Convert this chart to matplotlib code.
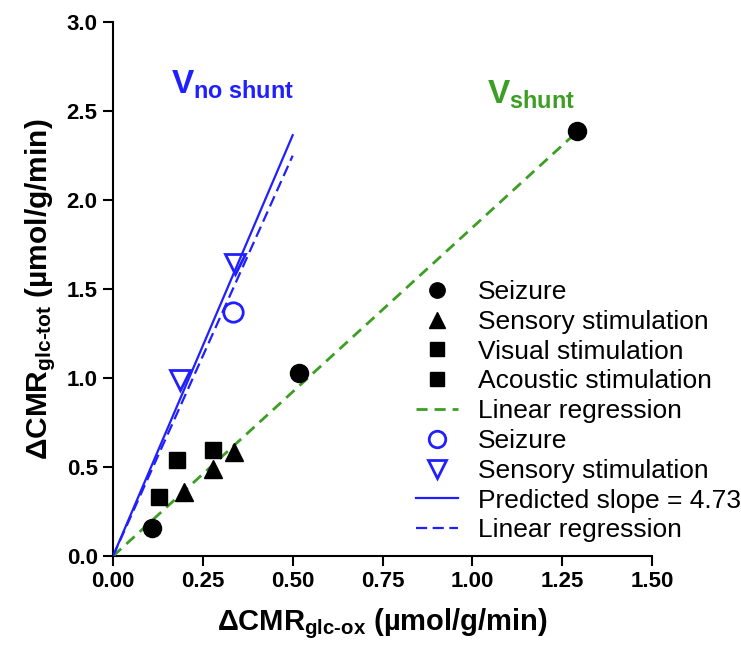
import matplotlib
matplotlib.use("Agg")
import matplotlib.pyplot as plt
import numpy as np

plt.rcParams['font.family'] = ['Liberation Sans', 'DejaVu Sans']
plt.rcParams['mathtext.fontset'] = 'custom'
plt.rcParams['mathtext.rm'] = 'Liberation Sans:bold'
plt.rcParams['mathtext.bf'] = 'Liberation Sans:bold'
plt.rcParams['mathtext.it'] = 'Liberation Sans:bold'

# ---- data (black: measured, V_shunt group) ----
seizure_x = [0.108, 0.518, 1.292]
seizure_y = [0.156, 1.03, 2.39]
sensory_x = [0.198, 0.279, 0.337]
sensory_y = [0.361, 0.49, 0.586]
visual_x = [0.129, 0.179]
visual_y = [0.333, 0.543]
acoustic_x = [0.279]
acoustic_y = [0.596]
shunt_fit_x = [0.0, 1.30]
shunt_fit_y = [0.0, 2.40]

# ---- data (blue: V_no shunt group) ----
ns_seizure_x = [0.335]
ns_seizure_y = [1.372]
ns_sensory_x = [0.187, 0.34]
ns_sensory_y = [0.99, 1.64]
pred_slope = 4.73
pred_x = np.array([0.0, 0.5])
ns_fit_x = [0.0, 0.5]
ns_fit_y = [0.0, 2.25]

xticks = [0.0, 0.25, 0.5, 0.75, 1.0, 1.25, 1.5]
xticklabels = ["0.00", "0.25", "0.50", "0.75", "1.00", "1.25", "1.50"]
yticks = [0.0, 0.5, 1.0, 1.5, 2.0, 2.5, 3.0]
yticklabels = ["0.0", "0.5", "1.0", "1.5", "2.0", "2.5", "3.0"]

blue = '#1f1fff'
green = '#3c9e22'

fig = plt.figure(figsize=(7.41, 6.52), dpi=100)
ax = fig.add_axes([0.1525, 0.147, 0.7275, 0.819])

h_seiz, = ax.plot(seizure_x, seizure_y, 'o', color='black', ms=13, ls='none', zorder=4)
h_sens, = ax.plot(sensory_x, sensory_y, '^', color='black', ms=13, ls='none', zorder=4)
h_vis, = ax.plot(visual_x, visual_y, 's', color='black', ms=12, ls='none', zorder=4)
h_aco, = ax.plot(acoustic_x, acoustic_y, 's', color='black', ms=12, ls='none', zorder=4)
h_gfit, = ax.plot(shunt_fit_x, shunt_fit_y, color=green, lw=2.0, ls=(0, (4, 2.5)), zorder=3)

h_nsseiz, = ax.plot(ns_seizure_x, ns_seizure_y, 'o', mfc='none', mec=blue, mew=2.0, ms=14, ls='none', zorder=4)
h_nssens, = ax.plot(ns_sensory_x, ns_sensory_y, 'v', mfc='none', mec=blue, mew=2.0, ms=15, ls='none', zorder=4)
h_pred, = ax.plot(pred_x, pred_slope * pred_x, color=blue, lw=1.6, zorder=3)
h_bfit, = ax.plot(ns_fit_x, ns_fit_y, color=blue, lw=1.6, ls=(0, (5, 2.5)), zorder=3)

ax.set_xlim(0, 1.5)
ax.set_ylim(0, 3.0)
ax.set_xticks(xticks)
ax.set_xticklabels(xticklabels)
ax.set_yticks(yticks)
ax.set_yticklabels(yticklabels)
for lab in ax.get_xticklabels() + ax.get_yticklabels():
    lab.set_fontweight('bold')
    lab.set_fontsize(16)
ax.tick_params(direction='out', length=7, width=1.5, pad=4)
for s in ['top', 'right']:
    ax.spines[s].set_visible(False)
for s in ['left', 'bottom']:
    ax.spines[s].set_linewidth(1.5)

ax.set_xlabel('ΔCMR$_{\\text{glc-ox}}$ (µmol/g/min)', fontsize=21, fontweight='bold', labelpad=10)
ax.set_ylabel('ΔCMR$_{\\text{glc-tot}}$ (µmol/g/min)', fontsize=21.5, fontweight='bold', labelpad=6)

ax.text(0.331, 2.646, '$\\mathbf{V}_{\\text{no shunt}}$', color=blue, fontsize=24,
        ha='center', va='center')
ax.text(1.164, 2.59, '$\\mathbf{V}_{\\text{shunt}}$', color=green, fontsize=24,
        ha='center', va='center')

handles = [h_seiz, h_sens, h_vis, h_aco, h_gfit, h_nsseiz, h_nssens, h_pred, h_bfit]
labels = ['Seizure', 'Sensory stimulation', 'Visual stimulation', 'Acoustic stimulation',
          'Linear regression', 'Seizure', 'Sensory stimulation', 'Predicted slope = 4.73',
          'Linear regression']
leg = ax.legend(handles, labels, loc='upper left',
                bbox_to_anchor=(416 / 741, 1 - 280 / 652), bbox_transform=fig.transFigure,
                frameon=False, fontsize=19, borderpad=0, borderaxespad=0,
                labelspacing=0.22, handlelength=1.6, handletextpad=0.75, markerscale=0.85)

fig.savefig('out.png', dpi=100)
